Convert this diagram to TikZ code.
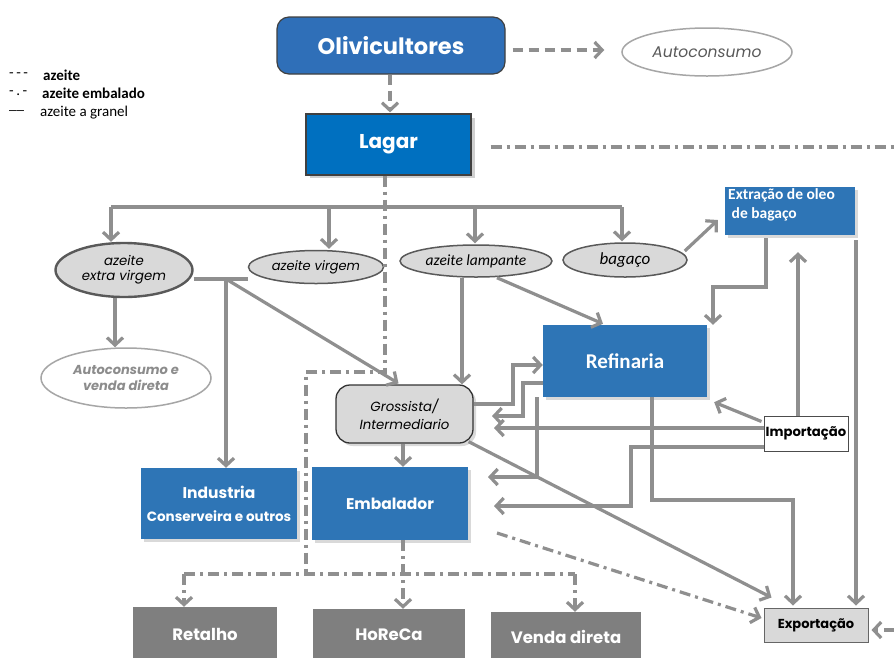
\documentclass[tikz,border=0pt]{standalone}
\usepackage{fontspec}
\setmainfont{Carlito}
\newfontfamily\geo{Poppins}
\usetikzlibrary{arrows.meta,shadows,calc,shapes.geometric}
\definecolor{conn}{HTML}{8F8F8F}
\definecolor{boxblue}{HTML}{2E75B6}
\definecolor{lagarblue}{HTML}{0070C0}
\definecolor{oliblue}{HTML}{2F6FB8}
\definecolor{ellfill}{HTML}{D9D9D9}
\definecolor{botgray}{HTML}{7F7F7F}
\definecolor{ellline}{HTML}{595959}
\definecolor{lighttext}{HTML}{8C8C8C}
\definecolor{shadgray}{HTML}{D0D0D0}
\begin{document}
\begin{tikzpicture}[x=1pt,y=-1pt,
  conline/.style={draw=conn, line width=3.2pt},
  arr/.style={conline, -{Straight Barb[length=7.5pt,width=16pt]}},
  dsh/.style={arr, dash pattern=on 10pt off 6pt},
  dshdot/.style={conline, dash pattern=on 11pt off 5pt on 3pt off 5pt},
  dshdotarr/.style={dshdot, -{Straight Barb[length=7.5pt,width=16pt]}},
  shad/.style={drop shadow={shadow xshift=3pt, shadow yshift=-3pt, fill=gray!30, draw=none, opacity=1}},
  bluebox/.style={rectangle, fill=boxblue, text=white, inner sep=0pt, shad},
  graybox/.style={rectangle, fill=botgray, text=white, inner sep=0pt,
     font=\geo\bfseries\fontsize{16.5}{19}\selectfont},
  ell/.style={ellipse, fill=ellfill, draw=ellline, line width=1.5pt, inner sep=0pt},
  wellipse/.style={ellipse, fill=white, draw=gray!70, line width=1.5pt, inner sep=0pt},
  legtxt/.style={anchor=west, inner sep=0pt, font=\fontsize{15}{17}\selectfont}
]
\useasboundingbox (0,0) rectangle (894,657);
\fill[white] (0,0) rectangle (894,657);

% legend
\node[legtxt] (l1a) at (9,75) {-\,-\,-};
\node[legtxt, font=\bfseries\fontsize{15}{17}\selectfont] (l1b) at (43,75) {azeite};
\node[legtxt] (l2a) at (9,93) {-\,.\,-};
\node[legtxt, font=\bfseries\fontsize{15}{17}\selectfont] (l2b) at (42,93) {azeite embalado};
\node[legtxt] (l3a) at (9,111) {\_\_};
\node[legtxt] (l3b) at (40,113) {azeite a granel};

% nodes
\node[rectangle, rounded corners=12pt, fill=oliblue, draw=black!75, line width=1.2pt,
      minimum width=228pt, minimum height=57pt, text=white,
      font=\geo\bfseries\fontsize{22.5}{26}\selectfont] (oli) at (391,45.5) {Olivicultores};
\node[wellipse, minimum width=170pt, minimum height=48pt, text=gray!70!black,
      font=\geo\itshape\fontsize{15.5}{18}\selectfont] (auto) at (707,52) {Autoconsumo};
\fill[shadgray] (310,118) rectangle (475,178);
\node[rectangle, fill=lagarblue, draw=black!75, line width=1.2pt, text=white, inner sep=0pt,
      minimum width=165pt, minimum height=61pt,
      font=\geo\bfseries\fontsize{20}{23}\selectfont] (lagar) at (388.5,144.5) {Lagar};

\node[ell, line width=2.4pt, minimum width=137pt, minimum height=54pt, align=center,
      font=\geo\itshape\fontsize{13.3}{15}\selectfont] (ev) at (124,270) {azeite\\extra virgem};
\node[ell, minimum width=135pt, minimum height=33pt,
      font=\geo\itshape\fontsize{13}{15}\selectfont] (av) at (316,267) {azeite virgem};
\node[ell, minimum width=152pt, minimum height=32pt,
      font=\itshape\fontsize{15.5}{17}\selectfont] (al) at (476,261) {azeite lampante};
\node[ell, minimum width=124pt, minimum height=34pt,
      font=\itshape\fontsize{17}{19}\selectfont] (bag) at (625,260) {bagaço};

\node[bluebox, minimum width=130pt, minimum height=48pt] (ext) at (790,211) {};
\node[anchor=north west, inner sep=0pt, text=white, align=left,
      font=\bfseries\fontsize{15.5}{19}\selectfont] (extt) at (728,188) {Extração de oleo\\\ de bagaço};

\node[wellipse, minimum width=170pt, minimum height=60pt, align=center, text=lighttext,
      font=\geo\bfseries\itshape\fontsize{13}{16}\selectfont] (acv) at (126,378) {Autoconsumo e\\venda direta};

\node[rectangle, rounded corners=14pt, fill=ellfill, draw=black!80, line width=1.3pt,
      minimum width=137pt, minimum height=58pt, align=center, shad,
      font=\geo\itshape\fontsize{13.3}{18}\selectfont] (gros) at (404.5,414) {Grossista/\\Intermediario};

\node[bluebox, minimum width=164pt, minimum height=72pt,
      font=\bfseries\fontsize{21}{24}\selectfont] (ref) at (625,361) {Refinaria};

\node[rectangle, fill=white, draw=black!70, line width=1pt, minimum width=84pt, minimum height=35pt,
      inner sep=0pt, font=\geo\bfseries\fontsize{13.2}{15}\selectfont] (imp) at (806,433.5) {Importação};

\node[bluebox, minimum width=156pt, minimum height=71pt, align=center,
      font=\geo\bfseries\fontsize{15.5}{23}\selectfont] (ind) at (219,503.5)
      {Industria\\{\fontsize{13.5}{15}\selectfont Conserveira e outros}};
\node[bluebox, minimum width=156pt, minimum height=73pt,
      font=\geo\bfseries\fontsize{15.5}{18}\selectfont] (emb) at (390,503.5) {Embalador};

\node[rectangle, fill=ellfill, draw=black!60, line width=1pt, minimum width=104pt, minimum height=34pt,
      inner sep=0pt, font=\geo\bfseries\fontsize{13}{15}\selectfont] (exp) at (816,625) {Exportação};

\node[graybox, minimum width=144pt, minimum height=54pt] (ret) at (205,634) {Retalho};
\node[graybox, minimum width=152pt, minimum height=52pt] (hor) at (389,635) {HoReCa};
\node[graybox, minimum width=150pt, minimum height=50pt] (ven) at (566,637) {Venda direta};

% coordinates
\coordinate (rightA) at (894,147);
\coordinate (rightB) at (894,630);
\coordinate (jr) at (226,279);

% dashed (azeite)
\draw[dsh] ($(oli.east)+(7,4.5)$) -- ($(auto.west)+(-17,-2)$);
\draw[dsh] ($(oli.south)+(-1,0)$) -- ($(lagar.north)+(1.5,-1)$);
\draw[dsh] (rightB) -- ($(exp.east)+(3,5)$);

% dash-dot (embalado)
\draw[dshdot] ($(lagar.east)+(19,2.5)$) -- (rightA);
\draw[dshdot] ($(lagar.south)+(-3.5,0)$) -- (385,372) -- (306,372) -- (306,574);
\draw[dshdot] (184,574) -- (575,574);
\draw[dshdotarr] (184,574) -- (ret.north -| 184,0);
\draw[dshdotarr] (emb.south -| 403,0) -- (hor.north -| 403,0);
\draw[dshdotarr] (575,574) -- (ven.north -| 575,0);
\draw[dshdotarr] (497,533) -- ($(exp.west)+(-2,-7)$);

% solid (granel)
\draw[conline] (111,207) -- (622,207);
\draw[arr] (111,207) -- (ev.north -| 111,0);
\draw[arr] (329,207) -- ($(av.north -| 329,0)+(0,-1)$);
\draw[arr] (475,207) -- ($(al.north -| 475,0)+(0,-1)$);
\draw[arr] (622,207) -- ($(bag.north -| 622,0)+(0,-1)$);

\draw[conline] (ev.east |- jr) -- (av.west |- jr);
\draw[arr] (jr) -- (ind.north -| jr);
\draw[arr] (jr) -- ($(gros.north)+(-6,-1)$);
\draw[arr] (ev.south -| 115,0) -- (acv.north -| 115,0);

\draw[arr] (al.south -| 462,0) -- (gros.north -| 462,0);
\draw[arr] ($(al.south)+(21,0)$) -- ($(ref.north)+(-22,-1)$);
\draw[arr] (bag.east) ++(-3,-9) -- ($(ext.west)+(-7,9)$);

\draw[arr] (ext.south -| 766,0) ++(0,3) -- (766,287) -- (713,287) -- (ref.north -| 713,0);
\draw[arr] (imp.north -| 798,0) -- ($(ext.south -| 798,0)+(0,17)$);
\draw[arr] (856,240) -- ($(exp.north -| 856,0)+(0,-2)$);

\draw[arr] ($(imp.west)+(-2,-12)$) -- ($(ref.south east)+(7,5)$);
\draw[arr] (imp.west |- 0,428) -- (494,428);
\draw[arr] (imp.west |- 0,447) -- (631,447) -- (631,506) -- (494,506);

\draw[arr] (gros.east |- 0,404) -- (513,404) -- (513,365) -- (ref.west |- 0,365);
\draw[arr] (ref.west |- 0,383) -- (523,383) -- (523,416) -- (492,416);
\draw[arr] (ref.south -| 537,0) -- (537,477) -- (488,477);
\draw[arr] (ref.south -| 652,0) -- (652,500) -- (793,500) -- ($(exp.north -| 793,0)+(0,-2)$);

\draw[arr] ($(gros.south east)+(-5,-2)$) -- ($(exp.north west)+(8,-10)$);
\draw[arr] (gros.south -| 403,0) -- (emb.north -| 403,0);
\end{tikzpicture}
\end{document}
